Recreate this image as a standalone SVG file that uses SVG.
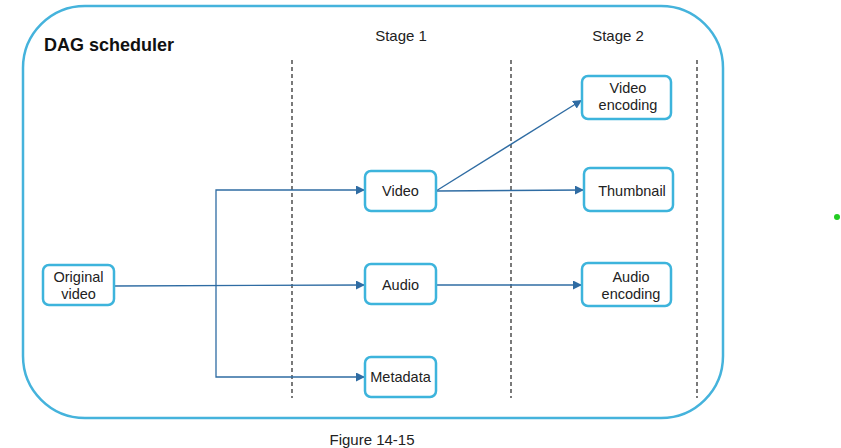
<svg xmlns="http://www.w3.org/2000/svg" width="841" height="448" viewBox="0 0 841 448">
<style>
.node rect{fill:#fff;stroke:#3db4dc;stroke-width:2.5}
.node text,.lbl{font-family:"Liberation Sans",Arial,sans-serif;font-size:15px;fill:#222;text-anchor:middle}
.node text{font-size:14.5px}
.sep{stroke:#333;stroke-width:1.3;stroke-dasharray:4 3}
.edge{stroke:#2f6ca3;stroke-width:1.3;fill:none}
</style>
<defs>
<marker id="ah" viewBox="0 0 10 10" refX="10" refY="5" markerWidth="9" markerHeight="9" markerUnits="userSpaceOnUse" orient="auto">
<path d="M0,0 L10,5 L0,10 z" fill="#2f6ca3"/>
</marker>
</defs>
<rect x="0" y="0" width="841" height="448" fill="#fff"/>
<rect x="23" y="6" width="700" height="412" rx="62" fill="#fff" stroke="#45b3dc" stroke-width="2.5"/>
<text x="44" y="51" font-family="'Liberation Sans',Arial,sans-serif" font-size="18" font-weight="bold" fill="#111">DAG scheduler</text>
<text class="lbl" x="401" y="41">Stage 1</text>
<text class="lbl" x="618" y="41">Stage 2</text>
<line class="sep" x1="292" y1="60" x2="292" y2="398"/>
<line class="sep" x1="511" y1="60" x2="511" y2="398"/>
<line class="sep" x1="697" y1="60" x2="697" y2="398"/>
<g id="connectors">
<path class="edge" d="M114,286 L365,285" marker-end="url(#ah)"/>
<path class="edge" d="M216,285 L216,190 L365,190" marker-end="url(#ah)"/>
<path class="edge" d="M216,285 L216,377 L365,377" marker-end="url(#ah)"/>
<path class="edge" d="M436,191 L582,100" marker-end="url(#ah)"/>
<path class="edge" d="M436,191 L584,190" marker-end="url(#ah)"/>
<path class="edge" d="M436,285 L582,285" marker-end="url(#ah)"/>
</g>
<g id="original-video" class="node"><rect x="43" y="265" width="71" height="40" rx="6"/><text x="78.5" y="282">Original</text><text x="78.5" y="299">video</text></g>
<g id="video" class="node"><rect x="365" y="171" width="71" height="40" rx="6"/><text x="400.5" y="196">Video</text></g>
<g id="audio" class="node"><rect x="365" y="264" width="71" height="40" rx="6"/><text x="400.5" y="290">Audio</text></g>
<g id="metadata" class="node"><rect x="365" y="357" width="71" height="40" rx="6"/><text x="400.5" y="382">Metadata</text></g>
<g id="video-encoding" class="node"><rect x="582" y="76" width="89" height="43" rx="6"/><text x="628" y="93">Video</text><text x="628" y="110">encoding</text></g>
<g id="thumbnail" class="node"><rect x="584" y="168" width="89" height="43" rx="6"/><text x="632" y="196">Thumbnail</text></g>
<g id="audio-encoding" class="node"><rect x="582" y="263" width="89" height="43" rx="6"/><text x="631" y="282">Audio</text><text x="631" y="299">encoding</text></g>
<circle cx="837" cy="217" r="3" fill="#22cc22"/>
<text class="lbl" x="372" y="445">Figure 14-15</text>
</svg>
